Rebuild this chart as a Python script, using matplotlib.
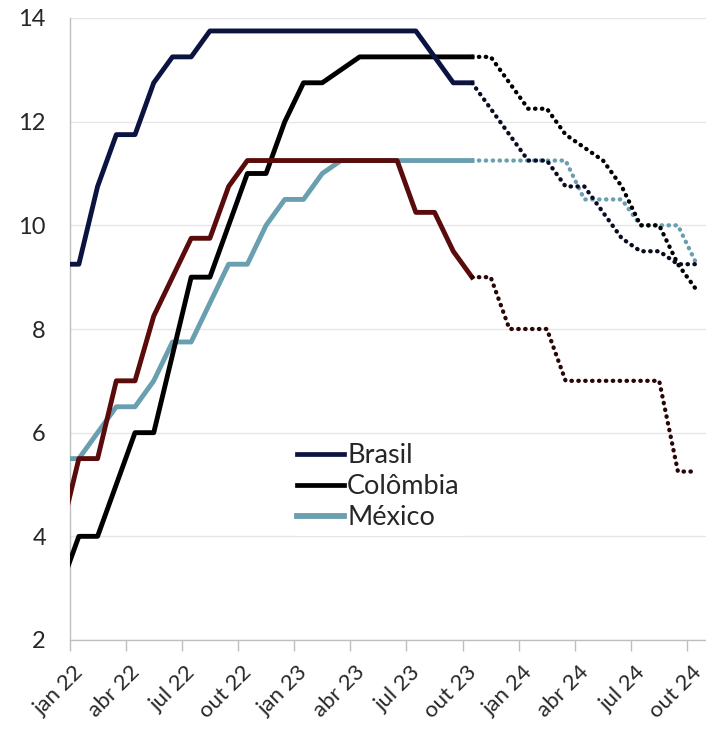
import numpy as np
import matplotlib
matplotlib.use("Agg")
import matplotlib.pyplot as plt
from matplotlib.lines import Line2D

plt.rcParams['font.family'] = ['Lato', 'DejaVu Sans']

# Months: dez 21 ... out 24 (monthly)
meses = ['dez 21',
         'jan 22', 'fev 22', 'mar 22', 'abr 22', 'mai 22', 'jun 22', 'jul 22', 'ago 22', 'set 22', 'out 22', 'nov 22', 'dez 22',
         'jan 23', 'fev 23', 'mar 23', 'abr 23', 'mai 23', 'jun 23', 'jul 23', 'ago 23', 'set 23', 'out 23', 'nov 23', 'dez 23',
         'jan 24', 'fev 24', 'mar 24', 'abr 24', 'mai 24', 'jun 24', 'jul 24', 'ago 24', 'set 24', 'out 24']

tick_labels = ['jan 22', 'abr 22', 'jul 22', 'out 22', 'jan 23', 'abr 23',
               'jul 23', 'out 23', 'jan 24', 'abr 24', 'jul 24', 'out 24']

# Realized (dez 21 .. out 23)
brasil_real = [9.25, 9.25, 10.75, 11.75, 11.75, 12.75, 13.25, 13.25, 13.75, 13.75, 13.75, 13.75, 13.75,
               13.75, 13.75, 13.75, 13.75, 13.75, 13.75, 13.75, 13.25, 12.75, 12.75]
colombia_real = [3.0, 4.0, 4.0, 5.0, 6.0, 6.0, 7.5, 9.0, 9.0, 10.0, 11.0, 11.0, 12.0,
                 12.75, 12.75, 13.0, 13.25, 13.25, 13.25, 13.25, 13.25, 13.25, 13.25]
mexico_real = [5.5, 5.5, 6.0, 6.5, 6.5, 7.0, 7.75, 7.75, 8.5, 9.25, 9.25, 10.0, 10.5,
               10.5, 11.0, 11.25, 11.25, 11.25, 11.25, 11.25, 11.25, 11.25, 11.25]
chile_real = [4.0, 5.5, 5.5, 7.0, 7.0, 8.25, 9.0, 9.75, 9.75, 10.75, 11.25, 11.25, 11.25,
              11.25, 11.25, 11.25, 11.25, 11.25, 11.25, 10.25, 10.25, 9.5, 9.0]

# Projections (out 23 .. out 24)
brasil_proj = [12.75, 12.25, 11.75, 11.25, 11.25, 10.75, 10.75, 10.25, 9.75, 9.5, 9.5, 9.25, 9.25]
colombia_proj = [13.25, 13.25, 12.75, 12.25, 12.25, 11.75, 11.5, 11.25, 10.75, 10.0, 10.0, 9.25, 8.75]
mexico_proj = [11.25, 11.25, 11.25, 11.25, 11.25, 11.25, 10.5, 10.5, 10.5, 10.0, 10.0, 10.0, 9.25]
chile_proj = [9.0, 9.0, 8.0, 8.0, 8.0, 7.0, 7.0, 7.0, 7.0, 7.0, 7.0, 5.25, 5.25]

x_all = np.arange(len(meses)) - 0.5          # jan 22 centered at 0.5
n_real = len(brasil_real)
x_real = x_all[:n_real]
x_proj = x_all[n_real - 1:]

c_br = '#0b1440'
c_co = '#000000'
c_mx = '#6a9fb0'
c_cl = '#5a0b0b'

fig = plt.figure(figsize=(7.06, 7.29), dpi=100)
ax = fig.add_axes([69.5 / 706, 89 / 729, 1 - 69.5 / 706, 622 / 729])

lw = 3.5
dot = (0, (0.1, 1.5))
kw_d = dict(lw=3.1, linestyle=dot, dash_capstyle='round', solid_capstyle='round')

ax.plot(x_real, mexico_real, color=c_mx, lw=lw, zorder=3)
ax.plot(x_real, colombia_real, color=c_co, lw=lw, zorder=4)
ax.plot(x_real, brasil_real, color=c_br, lw=lw, zorder=5)
ax.plot(x_real, chile_real, color=c_cl, lw=lw, zorder=6)

ax.plot(x_proj, mexico_proj, color=c_mx, zorder=3, **kw_d)
ax.plot(x_proj, colombia_proj, color=c_co, zorder=4, **kw_d)
ax.plot(x_proj, brasil_proj, color='#080c22', zorder=5, **kw_d)
ax.plot(x_proj, chile_proj, color='#2a0606', zorder=6, **kw_d)

ax.set_xlim(0, 34)
ax.set_ylim(2, 14)
ax.set_yticks(np.arange(2, 15, 2))
ax.grid(axis='y', color='#e6e6e6', lw=1.0)
ax.set_axisbelow(True)

major = np.arange(0, 34, 3)
ax.set_xticks(major)
ax.set_xticklabels([])
ax.tick_params(axis='x', which='major', length=8, color='#bfbfbf', width=1.0)
ax.set_xticks(major + 0.2, minor=True)
ax.set_xticklabels(tick_labels, minor=True, rotation=45, ha='right', va='top',
                   rotation_mode='anchor', fontsize=16, color='#262626')
ax.tick_params(axis='x', which='minor', length=0, pad=16)
ax.tick_params(axis='y', length=0, pad=17, labelsize=17, labelcolor='#262626')

for s in ['top', 'right']:
    ax.spines[s].set_visible(False)
for s in ['left', 'bottom']:
    ax.spines[s].set_color('#bfbfbf')
    ax.spines[s].set_linewidth(1.0)

handles = [Line2D([0], [0], color=c_br, lw=3.4),
           Line2D([0], [0], color=c_co, lw=3.4),
           Line2D([0], [0], color=c_mx, lw=4.2)]
leg = ax.legend(handles, ['Brasil', 'Colômbia', 'México'], loc='upper left',
                bbox_to_anchor=(0.349, 0.325), frameon=True, fontsize=19.5,
                handlelength=1.75, handletextpad=0.1, labelspacing=0.22,
                borderpad=0.2, borderaxespad=0)
leg.get_frame().set_facecolor('white')
leg.get_frame().set_edgecolor('none')
leg.get_frame().set_alpha(1)
for t in leg.get_texts():
    t.set_color('#262626')

fig.savefig('out.png', dpi=100, facecolor='white')
